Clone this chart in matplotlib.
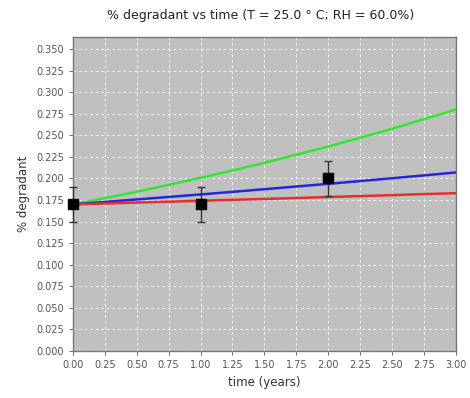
import numpy as np
import matplotlib.pyplot as plt

# time grid and model curves
t = [0.0, 0.25, 0.5, 0.75, 1.0, 1.25, 1.5, 1.75, 2.0, 2.25, 2.5, 2.75, 3.0]
upper = [0.170, 0.1772, 0.1847, 0.1926, 0.2008, 0.2093, 0.2182, 0.2275, 0.2371, 0.2472, 0.2577, 0.2687, 0.280]
mid = [0.170, 0.1728, 0.1757, 0.1786, 0.1815, 0.1845, 0.1876, 0.1907, 0.1938, 0.1970, 0.2003, 0.2036, 0.207]
lower = [0.170, 0.1710, 0.1721, 0.1731, 0.1742, 0.1753, 0.1763, 0.1774, 0.1785, 0.1796, 0.1807, 0.1819, 0.183]

# measured points
obs_t = [0.0, 1.0, 2.0]
obs_y = [0.170, 0.170, 0.200]
obs_err = [0.020, 0.020, 0.020]

fig = plt.figure(figsize=(4.7, 3.98), dpi=100)
ax = fig.add_axes([0.155, 0.118, 0.815, 0.789])
ax.set_facecolor('#c0c0c0')

ax.plot(t, upper, color='#33e633', lw=1.8)
ax.plot(t, mid, color='#2626d9', lw=1.8)
ax.plot(t, lower, color='#e03030', lw=1.8)
ax.errorbar(obs_t, obs_y, yerr=obs_err, fmt='s', color='black', ms=7,
            ecolor='#333333', elinewidth=1, capsize=3, clip_on=False, zorder=5)

ax.set_xlim(0, 3)
ax.set_ylim(0, 0.364)
ax.set_xticks(np.arange(0, 3.01, 0.25))
ax.set_yticks(np.arange(0, 0.351, 0.025))
ax.set_xticklabels([f'{v:.2f}' for v in np.arange(0, 3.01, 0.25)])
ax.set_yticklabels([f'{v:.3f}' for v in np.arange(0, 0.351, 0.025)])
ax.grid(True, color='#eeeeee', ls=(0, (2.5, 2.5)), lw=0.8)
ax.set_axisbelow(True)
ax.tick_params(labelsize=7, colors='#555555', length=3, width=0.6)
for s in ax.spines.values():
    s.set_color('#777777')
    s.set_linewidth(1.0)

ax.set_xlabel('time (years)', fontsize=8.5, color='#333333')
ax.set_ylabel('% degradant', fontsize=8.5, color='#333333')
fig.text(0.555, 0.962, '% degradant vs time (T = 25.0 \u00b0 C; RH = 60.0%)',
         ha='center', va='center', fontsize=9, color='#222222')

fig.savefig('out.png', dpi=100)
